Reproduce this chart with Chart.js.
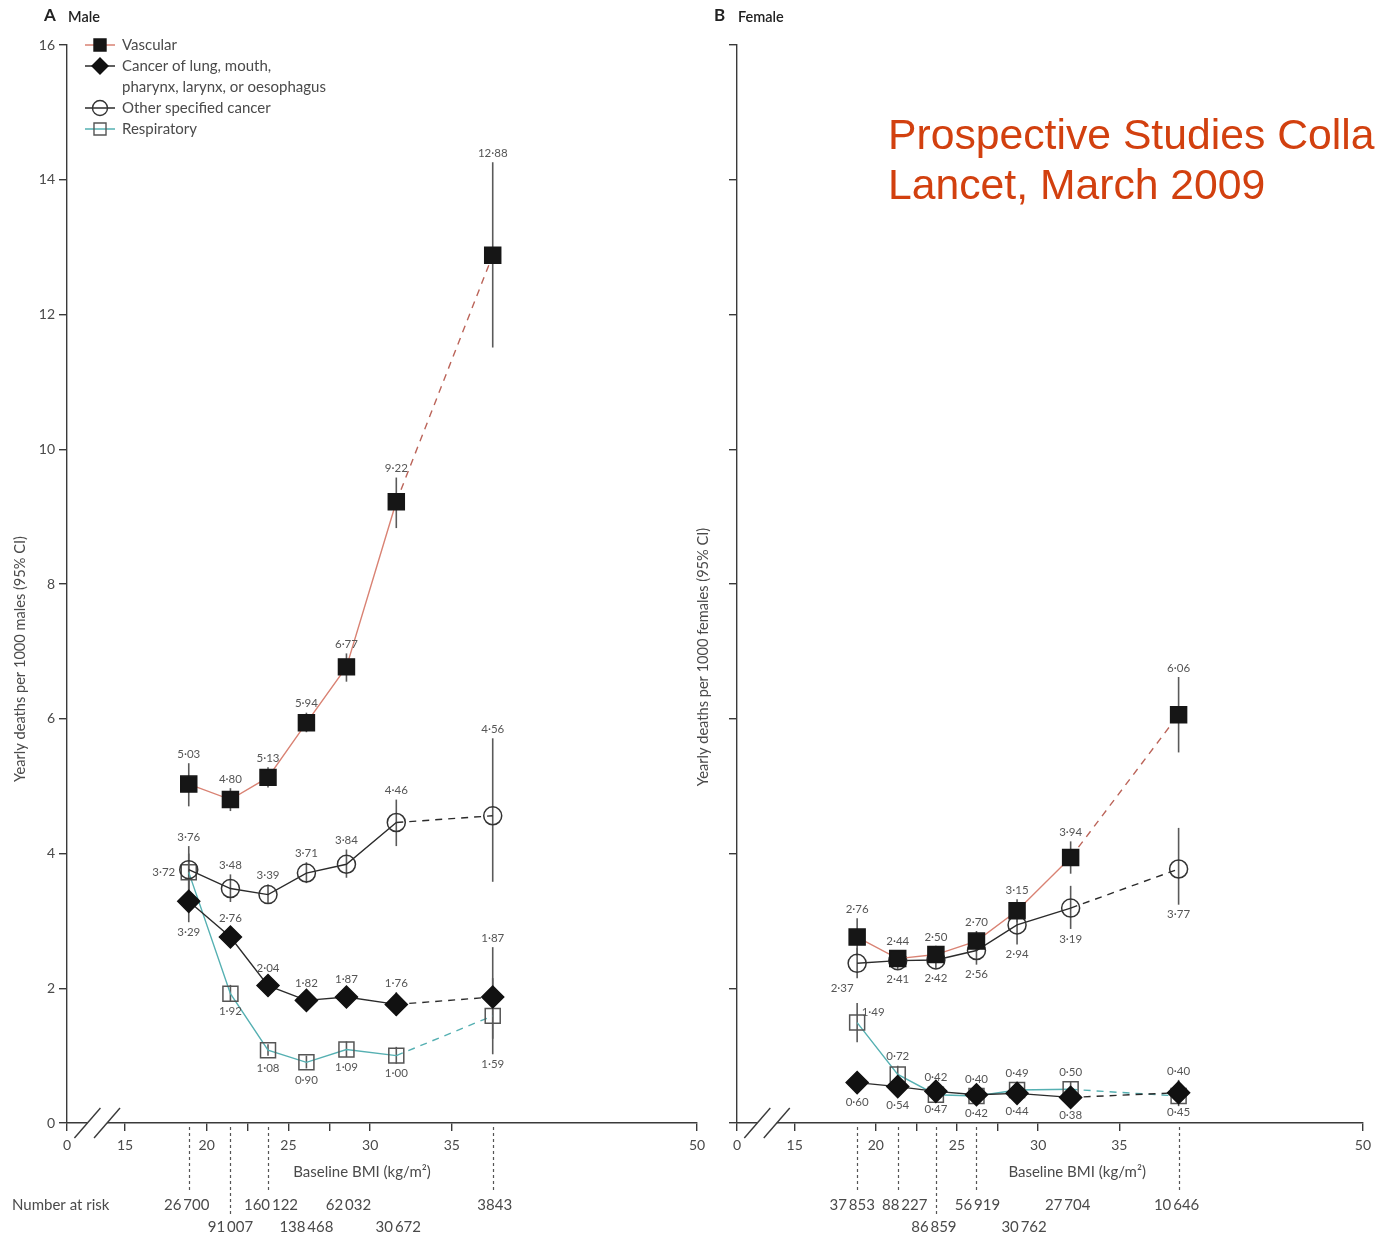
<!DOCTYPE html>
<html>
<head>
<meta charset="utf-8">
<script src="https://cdn.jsdelivr.net/npm/chart.js@4.4.1/dist/chart.umd.min.js"></script>
<style>
  html, body { margin: 0; padding: 0; background: #fff; overflow: hidden; }
  #wrap { position: relative; width: 1377px; height: 1236px; overflow: hidden; }
  #male { position: absolute; left: 0; top: 0; }
  #female { position: absolute; left: 690px; top: 0; }
  .credit { position: absolute; left: 888px; font-family: "Liberation Sans", Arial, sans-serif;
            font-size: 42.7px; line-height: 50px; color: #d2400f; white-space: nowrap; }
</style>
</head>
<body>
<div id="wrap">
  <canvas id="male" width="720" height="1236"></canvas>
  <canvas id="female" width="687" height="1236"></canvas>
  <div class="credit" style="top:109px">Prospective Studies Collaboration</div>
  <div class="credit" style="top:159px">Lancet, March 2009</div>
</div>
<script>
// x axis: "0" sits left of the break, the rest runs 15..50
const AXIS_ZERO = 11.45
const X_TICKS = [AXIS_ZERO, 15, 20, 22.5, 25, 27.5, 30, 35, 50]
const X_LABELS = { 15: "15", 20: "20", 25: "25", 30: "30", 35: "35", 50: "50" }
const Y_MAX = 16

// ---- males ----
const maleBmi = [18.9, 21.45, 23.75, 26.1, 28.55, 31.6, 37.5]
const maleVascular   = [5.03, 4.80, 5.13, 5.94, 6.77, 9.22, 12.88]
const maleVascularLo = [4.70, 4.63, 4.98, 5.80, 6.55, 8.83, 11.51]
const maleVascularHi = [5.34, 4.97, 5.28, 6.09, 6.97, 9.58, 14.26]
const maleLung   = [3.29, 2.76, 2.04, 1.82, 1.87, 1.76, 1.87]
const maleLungLo = [2.98, 2.62, 1.93, 1.72, 1.75, 1.59, 1.25]
const maleLungHi = [3.60, 2.90, 2.16, 1.93, 2.00, 1.94, 2.61]
const maleOther   = [3.76, 3.48, 3.39, 3.71, 3.84, 4.46, 4.56]
const maleOtherLo = [3.42, 3.28, 3.25, 3.56, 3.64, 4.11, 3.58]
const maleOtherHi = [4.11, 3.69, 3.54, 3.87, 4.06, 4.80, 5.71]
const maleResp   = [3.72, 1.92, 1.08, 0.90, 1.09, 1.00, 1.59]
const maleRespLo = [3.45, 1.80, 1.00, 0.81, 0.98, 0.88, 1.02]
const maleRespHi = [4.00, 2.05, 1.17, 1.00, 1.21, 1.13, 2.15]
const maleAtRisk = ["26\u2009700", "91\u2009007", "160\u2009122", "138\u2009468", "62\u2009032", "30\u2009672", "3843"]

// ---- females ----
const femaleBmi = [18.85, 21.35, 23.7, 26.2, 28.7, 32.0, 38.65]
const femaleVascular   = [2.76, 2.44, 2.50, 2.70, 3.15, 3.94, 6.06]
const femaleVascularLo = [2.48, 2.32, 2.38, 2.56, 2.98, 3.70, 5.50]
const femaleVascularHi = [3.04, 2.56, 2.63, 2.85, 3.32, 4.18, 6.62]
const femaleLung   = [0.60, 0.54, 0.47, 0.42, 0.44, 0.38, 0.45]
const femaleLungLo = [0.45, 0.42, 0.36, 0.33, 0.34, 0.28, 0.30]
const femaleLungHi = [0.72, 0.66, 0.58, 0.51, 0.54, 0.50, 0.62]
const femaleOther   = [2.37, 2.41, 2.42, 2.56, 2.94, 3.19, 3.77]
const femaleOtherLo = [2.15, 2.28, 2.29, 2.35, 2.65, 2.88, 3.24]
const femaleOtherHi = [2.60, 2.54, 2.56, 2.78, 3.23, 3.52, 4.38]
const femaleResp   = [1.49, 0.72, 0.42, 0.40, 0.49, 0.50, 0.40]
const femaleRespLo = [1.20, 0.60, 0.33, 0.30, 0.38, 0.36, 0.25]
const femaleRespHi = [1.78, 0.85, 0.55, 0.52, 0.58, 0.61, 0.64]
const femaleAtRisk = ["37\u2009853", "88\u2009227", "86\u2009859", "56\u2009919", "30\u2009762", "27\u2009704", "10\u2009646"]

const FONT = 'Lato, "Noto Sans", sans-serif'
const TEXT = "#4a4a4a"
const AXIS = "#3a3a3a"

const SERIES = {
  vascular: { name: ["Vascular"], line: "#d98273", dash: "#bb6459", style: "rect", r: 11.3, fill: "#161616", border: "#161616" },
  lung: { name: ["Cancer of lung, mouth,", "pharynx, larynx, or oesophagus"], line: "#2b2b2b", dash: "#2b2b2b", style: "rectRot", r: 11, fill: "#111111", border: "#111111" },
  other: { name: ["Other specified cancer"], line: "#2b2b2b", dash: "#2b2b2b", style: "circle", r: 9, fill: "rgba(0,0,0,0)", border: "#333333" },
  resp: { name: ["Respiratory"], line: "#55b0b2", dash: "#55b0b2", style: "rect", r: 10.6, fill: "rgba(0,0,0,0)", border: "#555555" }
}

function fmt(v) {
  return v.toFixed(2).replace(".", "\u00b7")
}

function makeDataset(s, bmi, vals, lo, hi, side, sideAt) {
  const last = bmi.length - 1
  return {
    label: s.name.join(" "),
    data: bmi.map((b, i) => ({ x: b, y: vals[i] })),
    lo: lo, hi: hi, side: side, sideAt: sideAt || {},
    borderColor: s.line,
    borderWidth: 1.4,
    pointStyle: s.style,
    pointRadius: s.r,
    pointBackgroundColor: s.fill,
    pointBorderColor: s.border,
    pointBorderWidth: 1.5,
    segment: {
      borderDash: c => c.p1DataIndex === last ? [7, 6] : undefined,
      borderColor: c => c.p1DataIndex === last ? s.dash : s.line
    },
    tension: 0,
    fill: false,
    clip: false
  }
}

function marker(ctx, s, x, y, r) {
  ctx.save()
  ctx.fillStyle = s.fill
  ctx.strokeStyle = s.border
  ctx.lineWidth = 1.4
  ctx.beginPath()
  if (s.style === "circle") {
    ctx.arc(x, y, r, 0, Math.PI * 2)
  } else if (s.style === "rectRot") {
    ctx.moveTo(x - r, y); ctx.lineTo(x, y - r); ctx.lineTo(x + r, y); ctx.lineTo(x, y + r); ctx.closePath()
  } else {
    const h = r * Math.SQRT1_2
    ctx.rect(x - h, y - h, 2 * h, 2 * h)
  }
  ctx.fill()
  ctx.stroke()
  ctx.restore()
}

const extras = {
  id: "extras",
  beforeDatasetsDraw(chart) {
    // confidence interval whiskers, behind the markers
    const { ctx, scales: { x, y } } = chart
    ctx.save()
    ctx.strokeStyle = "#5a5a5a"
    ctx.lineWidth = 1.6
    chart.data.datasets.forEach(ds => {
      ds.data.forEach((p, i) => {
        const px = x.getPixelForValue(p.x)
        ctx.beginPath()
        ctx.moveTo(px, y.getPixelForValue(ds.lo[i]))
        ctx.lineTo(px, y.getPixelForValue(ds.hi[i]))
        ctx.stroke()
      })
    })
    ctx.restore()
  },
  afterDatasetsDraw(chart) {
    // value labels next to each point
    const { ctx, scales: { y } } = chart
    ctx.save()
    ctx.font = "11.5px " + FONT
    ctx.fillStyle = "#555"
    ctx.textAlign = "center"
    ctx.textBaseline = "middle"
    chart.data.datasets.forEach((ds, di) => {
      const meta = chart.getDatasetMeta(di)
      meta.data.forEach((pt, i) => {
        const side = ds.sideAt[i] || ds.side
        const r = ds.pointRadius * 0.75
        const top = Math.min(y.getPixelForValue(ds.hi[i]), pt.y - r)
        const bot = Math.max(y.getPixelForValue(ds.lo[i]), pt.y + r)
        let lx = pt.x, ly
        if (side === "a") ly = top - 9
        else if (side === "b") ly = bot + 10
        else if (side === "l") { lx = pt.x - 25; ly = pt.y }
        else if (side === "ar") { lx = pt.x + 16; ly = top + 9 }
        else if (side === "bl") { lx = pt.x - 15; ly = bot + 10 }
        ctx.fillText(fmt(ds.data[i].y), lx, ly)
      })
    })
    ctx.restore()
  },
  afterDraw(chart, args, o) {
    const { ctx, chartArea: a, scales: { x } } = chart
    ctx.save()

    // axis break
    const b1 = x.getPixelForValue(12.7), b2 = x.getPixelForValue(13.9)
    ctx.fillStyle = "#fff"
    ctx.fillRect(b1, a.bottom - 3, b2 - b1, 6)
    ctx.strokeStyle = AXIS
    ctx.lineWidth = 1.4
    ;[b1, b2].forEach(bx => {
      ctx.beginPath()
      ctx.moveTo(bx - 13, a.bottom + 15)
      ctx.lineTo(bx + 13, a.bottom - 15)
      ctx.stroke()
    })

    // panel heading
    ctx.fillStyle = "#222"
    ctx.textBaseline = "middle"
    ctx.textAlign = "left"
    ctx.font = "bold 17px " + FONT
    ctx.fillText(o.panel, a.left - 23, 16)
    ctx.font = "600 14.5px " + FONT
    ctx.fillText(o.sex, a.left + 1, 17)

    // axis titles
    ctx.fillStyle = TEXT
    ctx.font = "15px " + FONT
    ctx.textAlign = "center"
    ctx.fillText("Baseline BMI (kg/m\u00b2)", x.getPixelForValue(o.xTitleAt), 1172)
    ctx.save()
    ctx.font = "14.6px " + FONT
    ctx.translate(a.left + o.yTitleDx, o.yTitleY)
    ctx.rotate(-Math.PI / 2)
    ctx.fillText(o.yTitle, 0, 0)
    ctx.restore()

    // number at risk, with dotted guides down from the points
    const rowY = [1205, 1227]
    const pts = chart.data.datasets[0].data
    ctx.font = "15px " + FONT
    o.atRisk.forEach((n, i) => {
      ctx.fillText(n, x.getPixelForValue(pts[i].x) + o.riskNudge[i], rowY[o.rows[i] - 1])
    })
    ctx.strokeStyle = "#555"
    ctx.lineWidth = 1.2
    ctx.setLineDash([3, 3])
    o.guides.forEach(i => {
      const gx = Math.round(x.getPixelForValue(pts[i].x)) + 0.5
      ctx.beginPath()
      ctx.moveTo(gx, a.bottom + 4)
      ctx.lineTo(gx, rowY[o.rows[i] - 1] - 12)
      ctx.stroke()
    })
    ctx.setLineDash([])
    if (o.riskLabel) {
      ctx.textAlign = "left"
      ctx.fillText("Number at risk", 12, rowY[0])
    }

    // legend
    if (o.legend) {
      const keys = ["vascular", "lung", "other", "resp"]
      const rows = [45, 66, 108, 129]
      const sizes = [8.5, 8, 7.5, 8.5]
      ctx.font = "15px " + FONT
      keys.forEach((k, i) => {
        const s = SERIES[k]
        const ly = rows[i]
        ctx.strokeStyle = s.line
        ctx.lineWidth = 1.5
        ctx.beginPath()
        ctx.moveTo(a.left + 18, ly)
        ctx.lineTo(a.left + 48, ly)
        ctx.stroke()
        marker(ctx, s, a.left + 33, ly, sizes[i])
        ctx.fillStyle = TEXT
        ctx.textAlign = "left"
        s.name.forEach((t, j) => ctx.fillText(t, a.left + 55, ly + j * 21))
      })
    }
    ctx.restore()
  }
}

function panelOptions(cfg) {
  return {
    responsive: false,
    animation: false,
    layout: { padding: { top: 45, right: cfg.padRight, left: 0, bottom: 0 } },
    plugins: { legend: { display: false }, tooltip: { enabled: false }, extras: cfg },
    scales: {
      x: {
        type: "linear",
        min: AXIS_ZERO,
        max: 50,
        afterFit: s => { s.height = 113 },
        afterBuildTicks: s => { s.ticks = X_TICKS.map(v => ({ value: v })) },
        ticks: {
          autoSkip: false, maxRotation: 0, padding: 6, color: TEXT,
          font: { family: FONT, size: 14 },
          callback: v => v === AXIS_ZERO ? "0" : (X_LABELS[v] || "")
        },
        grid: { drawOnChartArea: false, drawTicks: true, tickLength: 8, color: AXIS, lineWidth: 1.4 },
        border: { display: true, color: AXIS, width: 1.4 }
      },
      y: {
        min: 0,
        max: Y_MAX,
        afterFit: s => { s.width = cfg.yWidth },
        ticks: {
          stepSize: 2, padding: 4, color: TEXT,
          font: { family: FONT, size: 14 },
          callback: v => cfg.yLabels ? String(v) : ""
        },
        grid: { drawOnChartArea: false, drawTicks: true, tickLength: 8, color: AXIS, lineWidth: 1.4 },
        border: { display: true, color: AXIS, width: 1.4 }
      }
    }
  }
}

function createPanel(canvas, datasets, cfg) {
  return new Chart(canvas, {
    type: "line",
    data: { datasets: datasets },
    options: panelOptions(cfg),
    plugins: [extras]
  })
}

createPanel(document.getElementById("male"), [
  makeDataset(SERIES.vascular, maleBmi, maleVascular, maleVascularLo, maleVascularHi, "a"),
  makeDataset(SERIES.lung, maleBmi, maleLung, maleLungLo, maleLungHi, "a", { 0: "b" }),
  makeDataset(SERIES.other, maleBmi, maleOther, maleOtherLo, maleOtherHi, "a"),
  makeDataset(SERIES.resp, maleBmi, maleResp, maleRespLo, maleRespHi, "b", { 0: "l" })
], {
  panel: "A", sex: "Male", yWidth: 67, padRight: 23,
  yLabels: true, legend: true, riskLabel: true,
  yTitle: "Yearly deaths per 1000 males (95% CI)", yTitleDx: -47, yTitleY: 659,
  xTitleAt: 29.5,
  atRisk: maleAtRisk, rows: [1, 2, 1, 2, 1, 2, 1], riskNudge: [-2, 0, 3, 0, 2, 2, 2],
  guides: [0, 1, 2, 6]
})

createPanel(document.getElementById("female"), [
  makeDataset(SERIES.vascular, femaleBmi, femaleVascular, femaleVascularLo, femaleVascularHi, "a"),
  makeDataset(SERIES.lung, femaleBmi, femaleLung, femaleLungLo, femaleLungHi, "b"),
  makeDataset(SERIES.other, femaleBmi, femaleOther, femaleOtherLo, femaleOtherHi, "b", { 0: "bl" }),
  makeDataset(SERIES.resp, femaleBmi, femaleResp, femaleRespLo, femaleRespHi, "a", { 0: "ar" })
], {
  panel: "B", sex: "Female", yWidth: 47, padRight: 10,
  yLabels: false, legend: false, riskLabel: false,
  yTitle: "Yearly deaths per 1000 females (95% CI)", yTitleDx: -34, yTitleY: 657,
  xTitleAt: 32.4,
  atRisk: femaleAtRisk, rows: [1, 1, 2, 1, 2, 1, 1], riskNudge: [-5, 7, -2, 1, 7, -3, -2],
  guides: [0, 1, 2, 3, 6]
})
</script>
</body>
</html>
